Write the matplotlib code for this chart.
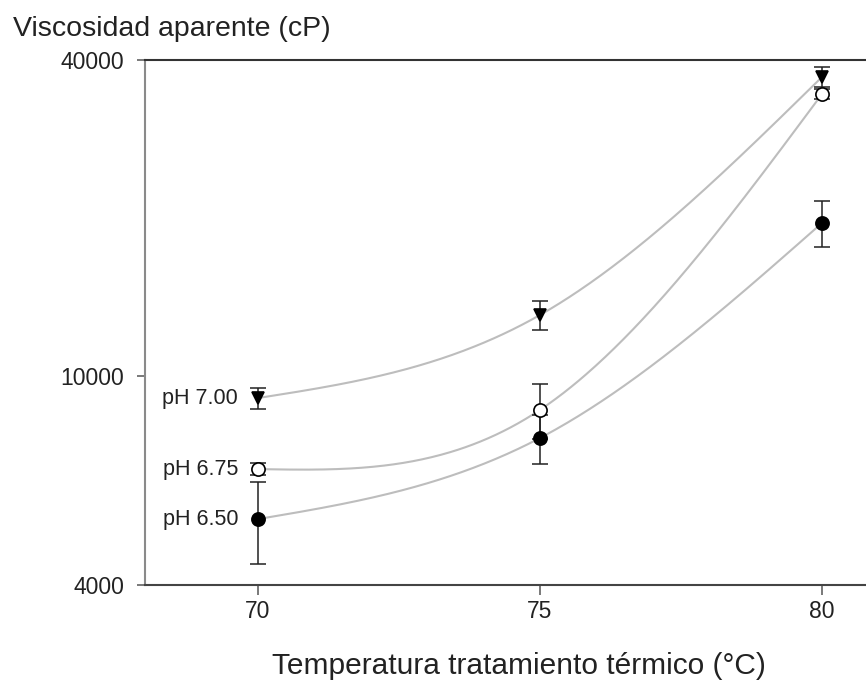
import matplotlib.pyplot as plt
import numpy as np

plt.rcParams['font.family'] = ['Liberation Sans', 'DejaVu Sans']

# heat treatment temperature [C]
temperatura = [70, 75, 80]

# apparent viscosity [cP] and standard deviation for each pH
visc_ph700 = [9080, 13070, 37130]
err_ph700 = [420, 820, 1600]
visc_ph675 = [6650, 8620, 34450]
err_ph675 = [170, 1030, 700]
visc_ph650 = [5340, 7620, 19570]
err_ph650 = [950, 820, 1950]

etiquetas = ['pH 7.00', 'pH 6.75', 'pH 6.50']


def natural_spline(x, y, xs):
    # natural cubic spline (zero curvature at both ends)
    n = len(x)
    h = np.diff(x)
    s = np.diff(y) / h
    A = np.zeros((n, n))
    b = np.zeros(n)
    A[0, 0] = A[-1, -1] = 1.0
    for i in range(1, n - 1):
        A[i, i - 1] = h[i - 1]
        A[i, i] = 2 * (h[i - 1] + h[i])
        A[i, i + 1] = h[i]
        b[i] = 6 * (s[i] - s[i - 1])
    M = np.linalg.solve(A, b)
    k = np.clip(np.searchsorted(x, xs) - 1, 0, n - 2)
    t0 = x[k + 1] - xs
    t1 = xs - x[k]
    hk = h[k]
    return (M[k] * t0 ** 3 / (6 * hk) + M[k + 1] * t1 ** 3 / (6 * hk)
            + (y[k] / hk - M[k] * hk / 6) * t0 + (y[k + 1] / hk - M[k + 1] * hk / 6) * t1)


fig = plt.figure(figsize=(8.66, 6.85), dpi=100)
ax = fig.add_axes([0.1674, 0.146, 0.8326, 0.7664])

series = [(visc_ph700, err_ph700, 'v', 'black'),
          (visc_ph675, err_ph675, 'o', 'white'),
          (visc_ph650, err_ph650, 'o', 'black')]

x = np.array(temperatura, dtype=float)
xs = np.linspace(x[0], x[-1], 300)
for (y, err, mk, fc), lab in zip(series, etiquetas):
    y = np.array(y, dtype=float)
    ax.plot(xs, 10 ** natural_spline(x, np.log10(y), xs), color='#bdbdbd', lw=1.5, zorder=1)
    ax.errorbar(x, y, yerr=err, fmt='none', ecolor='#222222', elinewidth=1.1,
                capsize=5.5, capthick=1.1, zorder=2)
    ax.plot(x, y, linestyle='none', marker=mk, markersize=9 if mk == 'v' else 9.5,
            markerfacecolor=fc, markeredgecolor='black', markeredgewidth=1.2, zorder=3)
    ax.text(x[0] - 0.35, y[0], lab, ha='right', va='center', fontsize=15.5, color='#222222')

ax.set_yscale('log')
ax.set_ylim(4000, 40000)
ax.set_xlim(68.0, 80.78)
ax.set_yticks([4000, 10000, 40000])
ax.set_yticklabels(['4000', '10000', '40000'])
ax.yaxis.set_minor_locator(plt.NullLocator())
ax.set_xticks(temperatura)
ax.set_xticklabels([str(t) for t in temperatura])

ax.spines['right'].set_visible(False)
ax.spines['left'].set_color('#8a8a8a')
ax.spines['left'].set_linewidth(1.5)
ax.spines['top'].set_color('#333333')
ax.spines['top'].set_linewidth(1.5)
ax.spines['bottom'].set_color('#444444')
ax.spines['bottom'].set_linewidth(1.5)

ax.tick_params(axis='y', direction='out', length=6, width=1.1, color='#555555',
               labelsize=16.5, pad=9, labelcolor='#222222')
ax.tick_params(axis='x', direction='out', length=7, width=1.1, color='#555555',
               labelsize=16.5, pad=4, labelcolor='#222222')

ax.set_xlabel('Temperatura tratamiento térmico (°C)', fontsize=21.5, color='#222222')
ax.xaxis.set_label_coords(0.518, -0.127)
fig.text(0.015, 0.958, 'Viscosidad aparente (cP)', fontsize=20.5, ha='left', va='center',
         color='#222222')

fig.savefig('out.png', dpi=100)
